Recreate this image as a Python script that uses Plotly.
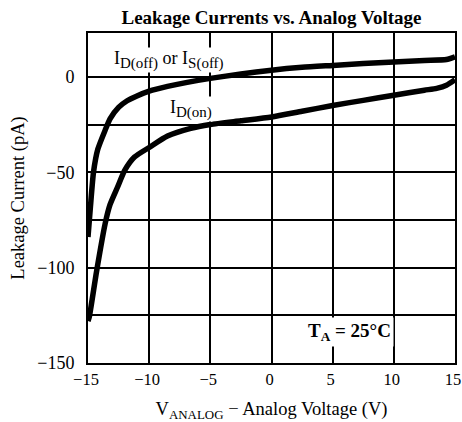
import plotly.graph_objects as go

# Data
v_off = [-15, -14.8, -14.55, -14.2, -13.6, -13.2, -12.5, -11.8, -11, -10, -8.5, -7, -5, -2.5, 0, 2.5, 5, 7.5, 10, 12.5, 14.3, 15]
i_off = [-84, -68, -50, -38, -28, -22, -16, -12.5, -10, -7.5, -5, -3, -0.8, 1.5, 3.5, 5, 6, 7, 7.8, 8.6, 9.1, 10.5]

v_on = [-15, -14.9, -14.3, -13.6, -13.2, -12.6, -12.0, -11.2, -10, -8.5, -6.6, -5, -2.5, 0, 2.5, 5, 7.5, 10, 12.5, 13.5, 14.3, 15]
i_on = [-128, -126, -102, -77, -67, -58, -49, -42, -37, -31, -27, -25, -23, -21, -18, -15, -12.3, -9.6, -7, -6, -4.4, -1.5]

x_ticks = [-15, -10, -5, 0, 5, 10, 15]
x_labels = ["−15", "−10", "−5", "0", "5", "10", "15"]
y_ticks = [-150, -125, -100, -75, -50, -25, 0]
y_labels = ["−150", "", "−100", "", "−50", "", "0"]

FONT = "Liberation Serif"
SUB = '<span style="font-size:15px">{}</span>'

fig = go.Figure()
fig.add_trace(go.Scatter(x=v_off, y=i_off, mode="lines", line=dict(color="black", width=5.5, shape="spline", smoothing=0.6), showlegend=False))
fig.add_trace(go.Scatter(x=v_on, y=i_on, mode="lines", line=dict(color="black", width=5.5, shape="spline", smoothing=0.6), showlegend=False))

fig.add_annotation(x=-8.4, y=8.8,
                   text="I<sub>" + SUB.format("D(off)") + "</sub> or I<sub>" + SUB.format("S(off)") + "</sub>",
                   showarrow=False, font=dict(family=FONT, size=18, color="black"), bgcolor="white", borderpad=0)
fig.add_annotation(x=-6.6, y=-17.0, text="I<sub>" + SUB.format("D(on)") + "</sub>", showarrow=False,
                   font=dict(family=FONT, size=18, color="black"), bgcolor="white", borderpad=0)
fig.add_annotation(x=6.4, y=-134, text="<b>T<sub>A</sub> = 25°C</b>", showarrow=False,
                   font=dict(family=FONT, size=19, color="black"), bgcolor="white", borderpad=2)

fig.update_layout(
    width=462, height=422,
    margin=dict(l=88, r=7, t=33, b=59, autoexpand=False),
    paper_bgcolor="white", plot_bgcolor="white",
    title=dict(text="<b>Leakage Currents vs. Analog Voltage</b>", x=0.5, xref="paper", y=1 - 17 / 422, yref="container",
               yanchor="middle", font=dict(family=FONT, size=19, color="black")),
    font=dict(family=FONT, color="black"),
)
fig.update_xaxes(range=[-15, 15], tickvals=x_ticks, ticktext=x_labels,
                 showgrid=True, gridcolor="black", gridwidth=1.5,
                 showline=True, linecolor="black", linewidth=2, mirror=True,
                 ticks="", tickfont=dict(family=FONT, size=16.5, color="black"),
                 ticklabelshift=-2, ticklabeloverflow="allow",
                 automargin=False,
                 title=dict(text="V<sub>ANALOG</sub> − Analog Voltage (V)", font=dict(family=FONT, size=18.5, color="black"), standoff=14),
                 zeroline=False)
fig.update_yaxes(range=[-150, 23], tickvals=y_ticks, ticktext=y_labels,
                 showgrid=True, gridcolor="black", gridwidth=1.5,
                 showline=True, linecolor="black", linewidth=2, mirror=True,
                 ticks="", ticklabelstandoff=8, tickfont=dict(family=FONT, size=18, color="black"),
                 automargin=False,
                 title=dict(text="Leakage Current (pA)", font=dict(family=FONT, size=18.5, color="black"), standoff=8),
                 zeroline=False)

fig.write_html("out.html", config={"displayModeBar": False},
               post_script="document.body.style.margin='0px';")
